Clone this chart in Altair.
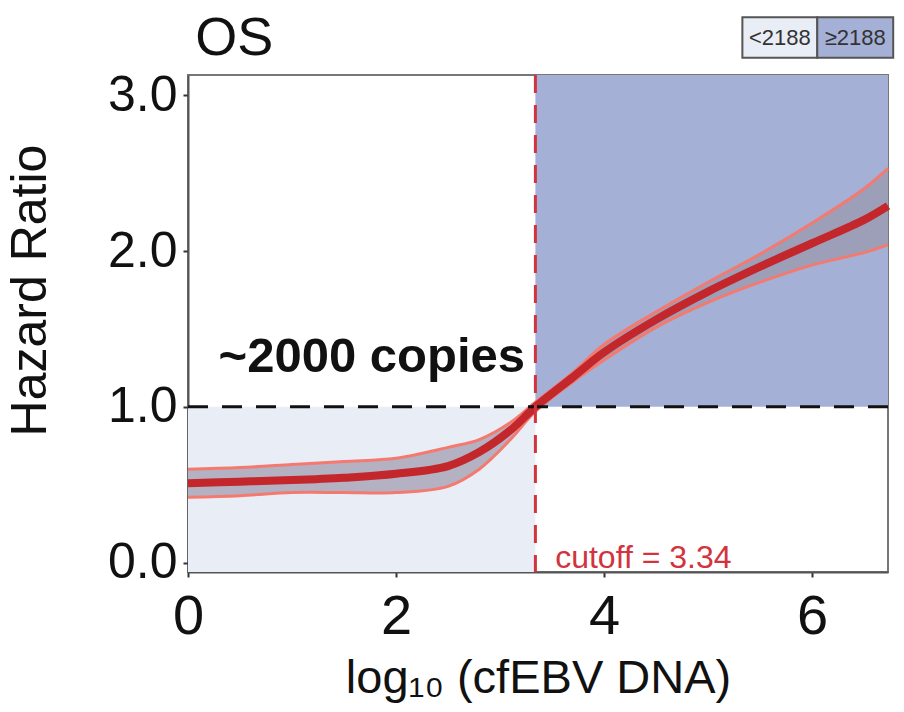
import altair as alt
import pandas as pd

# ---- data ----
x_vals = [0.0, 0.5, 1.0, 1.5, 2.0, 2.5, 2.8, 3.1, 3.34, 3.7, 4.0, 4.5, 5.0, 5.5, 6.0, 6.5, 6.73]
hr     = [0.51, 0.52, 0.53, 0.545, 0.57, 0.62, 0.71, 0.85, 1.00, 1.19, 1.35, 1.56, 1.74, 1.90, 2.05, 2.20, 2.29]
upper  = [0.60, 0.61, 0.63, 0.65, 0.67, 0.74, 0.79, 0.90, 1.03, 1.22, 1.40, 1.61, 1.80, 1.98, 2.18, 2.40, 2.53]
lower  = [0.42, 0.43, 0.45, 0.45, 0.45, 0.49, 0.60, 0.79, 0.97, 1.16, 1.30, 1.51, 1.67, 1.80, 1.91, 1.99, 2.04]

cutoff = 3.34
x_domain = [0, 6.73]
y_domain = [-0.06, 3.13]

region_x  = [0.0, 3.34]
region_x2 = [3.34, 6.73]
region_y  = [-0.06, 1.0]
region_y2 = [1.0, 3.13]
region_col = ["low", "high"]

legend_labels = ["<2188", "≥2188"]
legend_x  = [5.33, 6.05]
legend_x2 = [6.05, 6.78]
legend_y  = [3.24, 3.24]
legend_y2 = [3.50, 3.50]

FONT = "Liberation Sans"
LIGHT = "#e9edf6"
DARK = "#a4b0d6"

curve = pd.DataFrame({"x": x_vals, "hr": hr, "upper": upper, "lower": lower})
regions = pd.DataFrame({"x": region_x, "x2": region_x2, "y": region_y, "y2": region_y2, "g": region_col})
legend = pd.DataFrame({"x": legend_x, "x2": legend_x2, "y": legend_y, "y2": legend_y2,
                       "label": legend_labels, "g": region_col,
                       "xm": [(a + b) / 2 for a, b in zip(legend_x, legend_x2)],
                       "ym": [(a + b) / 2 for a, b in zip(legend_y, legend_y2)]})

xs = alt.Scale(domain=x_domain, nice=False, zero=False)
ys = alt.Scale(domain=y_domain, nice=False, zero=False)
cs = alt.Scale(domain=["low", "high"], range=[LIGHT, DARK])

x_axis = alt.Axis(values=[0, 2, 4, 6], format="d", title="log₁₀ (cfEBV DNA)", grid=False,
                  labelFont=FONT, labelFontSize=56, labelColor="#111", labelPadding=12,
                  labelFlush=False, labelOverlap=False,
                  tickSize=5, tickColor="#333", tickWidth=2, domainColor="#555", domainWidth=2,
                  titleFont=FONT, titleFontSize=47, titleFontWeight="normal", titleColor="#111",
                  titleBaseline="alphabetic", titleY=120)
y_axis = alt.Axis(values=[0, 1, 2, 3], format=".1f", title="Hazard Ratio", grid=False,
                  labelFont=FONT, labelFontSize=50, labelColor="#111", labelPadding=6,
                  labelFlush=False, labelOverlap=False,
                  tickSize=5, tickColor="#333", tickWidth=2, domainColor="#555", domainWidth=2,
                  titleFont=FONT, titleFontSize=50, titleFontWeight="normal", titleColor="#111",
                  titleX=-158, titleY=215, titleBaseline="middle")

reg = alt.Chart(regions).mark_rect().encode(
    x=alt.X("x:Q", scale=xs, axis=x_axis), x2="x2", y=alt.Y("y:Q", scale=ys, axis=y_axis), y2="y2",
    color=alt.Color("g:N", scale=cs, legend=None))

INTERP = "catmull-rom"
band = alt.Chart(curve).mark_area(interpolate=INTERP, color="#9a95aa", opacity=0.68).encode(
    x="x:Q", y="lower:Q", y2="upper")
band_up = alt.Chart(curve).mark_line(interpolate=INTERP, color="#f47a70", strokeWidth=3).encode(
    x="x:Q", y="upper:Q")
band_lo = alt.Chart(curve).mark_line(interpolate=INTERP, color="#f47a70", strokeWidth=3).encode(
    x="x:Q", y="lower:Q")
line = alt.Chart(curve).mark_line(interpolate=INTERP, color="#c3272b", strokeWidth=8).encode(
    x="x:Q", y="hr:Q")

hline = alt.Chart(pd.DataFrame({"y": [1.0]})).mark_rule(
    color="#111", strokeWidth=3, strokeDash=[20, 14]).encode(y="y:Q")
vline = alt.Chart(pd.DataFrame({"x": [cutoff]})).mark_rule(
    color="#d2343d", strokeWidth=3, strokeDash=[18, 12]).encode(x="x:Q")

ann = alt.Chart(pd.DataFrame({"x": [3.24], "y": [1.32], "t": ["~2000 copies"]})).mark_text(
    align="right", baseline="middle", font=FONT, fontSize=49, fontWeight="bold", color="#111"
).encode(x="x:Q", y="y:Q", text="t:N")

cut_txt = alt.Chart(pd.DataFrame({"x": [3.53], "y": [-0.035], "t": ["cutoff = 3.34"]})).mark_text(
    align="left", baseline="alphabetic", font=FONT, fontSize=32, color="#d2343d"
).encode(x="x:Q", y="y:Q", text="t:N")

leg_box = alt.Chart(legend).mark_rect(clip=False, stroke="#555", strokeWidth=2).encode(
    x="x:Q", x2="x2", y="y:Q", y2="y2", color=alt.Color("g:N", scale=cs, legend=None))
leg_txt = alt.Chart(legend).mark_text(clip=False, font=FONT, fontSize=22, color="#333",
                                      baseline="middle", align="center").encode(
    x="xm:Q", y="ym:Q", text="label:N")

title_txt = alt.Chart(pd.DataFrame({"x": [0.07], "y": [3.36], "t": ["OS"]})).mark_text(
    clip=False, align="left", baseline="middle", font=FONT, fontSize=54, color="#111"
).encode(x="x:Q", y="y:Q", text="t:N")

chart = alt.layer(reg, band, band_up, band_lo, line, hline, vline, ann, cut_txt,
                  leg_box, leg_txt, title_txt).properties(
    width=700, height=497,
    autosize=alt.AutoSizeParams(type="none"),
    padding={"left": 188, "top": 75, "right": 16, "bottom": 140},
    background="white",
).configure_view(stroke="#777", strokeWidth=2)

chart.save("out.html", embed_options={"renderer": "svg", "actions": False})
